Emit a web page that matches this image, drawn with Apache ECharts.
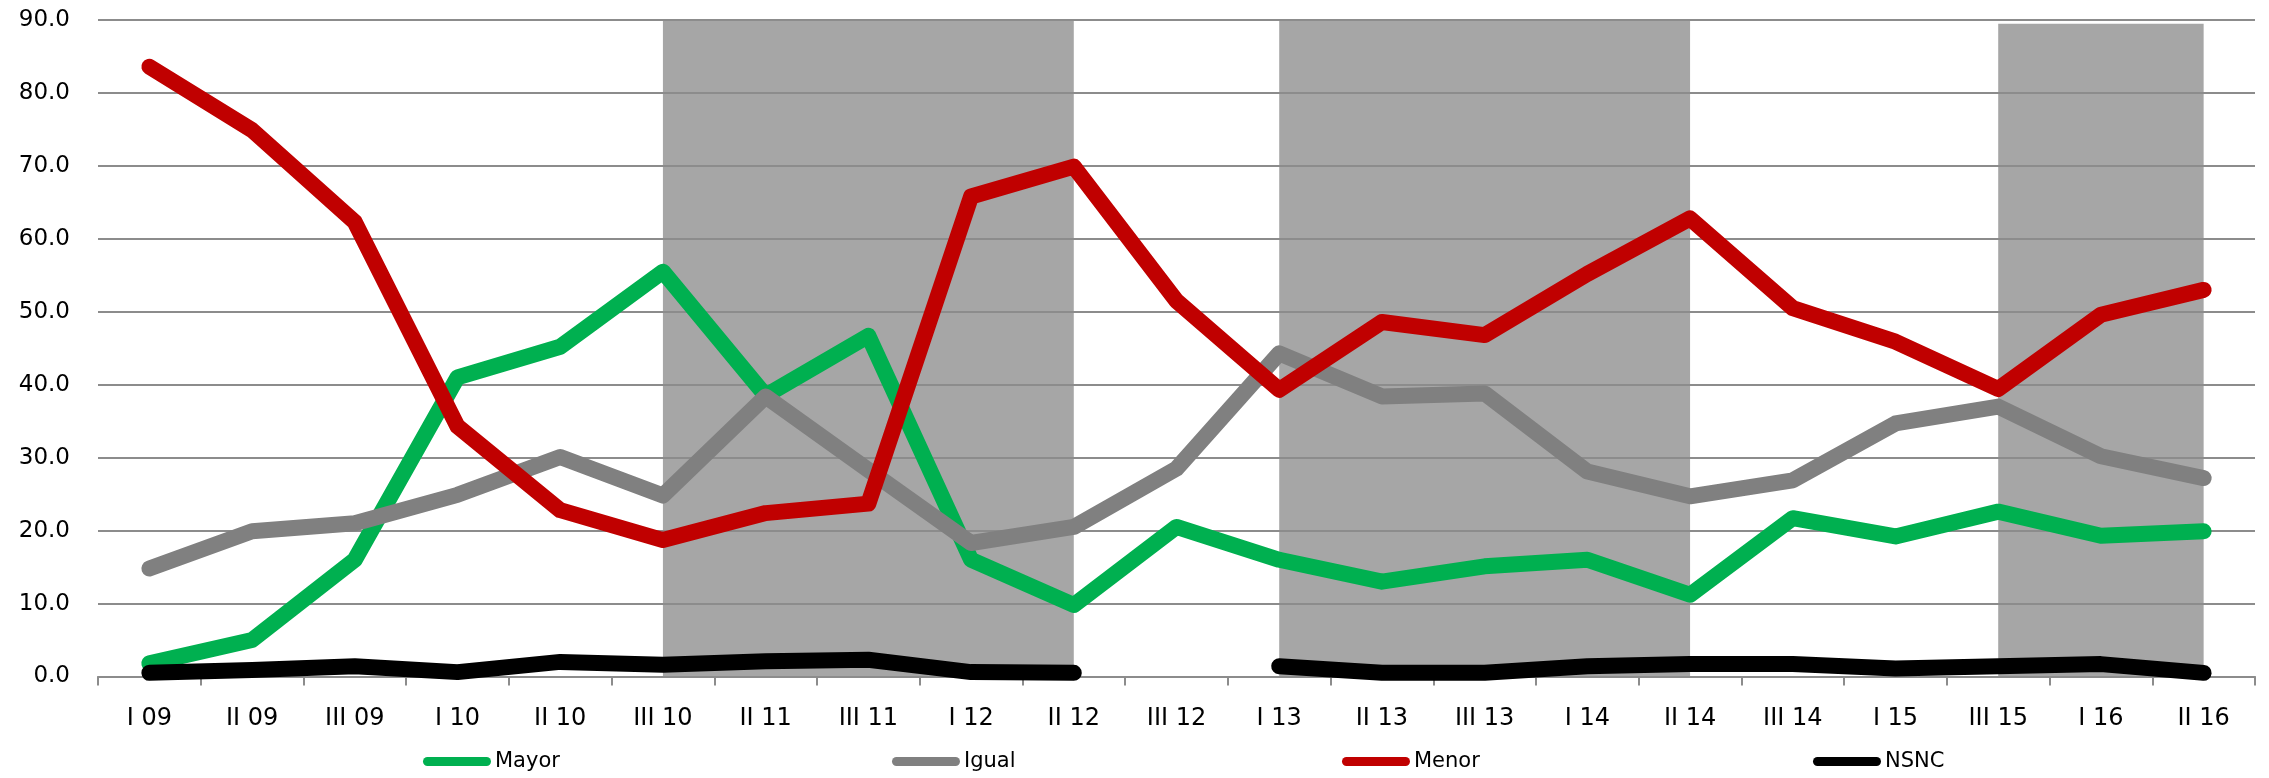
<!DOCTYPE html>
<html>
<head>
<meta charset="utf-8">
<title>Mayor / Igual / Menor / NSNC</title>
<script src="https://cdn.jsdelivr.net/npm/echarts@6/dist/echarts.min.js"></script>
<style>
  html, body { margin: 0; padding: 0; background: #fff; }
  #chart { width: 2269px; height: 778px; }
</style>
</head>
<body>
<div id="chart"></div>
<script>
// trimestres (el eje original no trae "I 11" ni "II 15")
const categories = ['I 09', 'II 09', 'III 09', 'I 10', 'II 10', 'III 10', 'II 11', 'III 11', 'I 12', 'II 12',
  'III 12', 'I 13', 'II 13', 'III 13', 'I 14', 'II 14', 'III 14', 'I 15', 'III 15', 'I 16', 'II 16'];

// valores
const mayor = [1.8, 5.0, 16.0, 41.0, 45.2, 55.5, 38.5, 46.7, 16.0, 9.8, 20.5, 16.0, 13.0, 15.1, 16.0, 11.2, 21.7, 19.2, 22.6, 19.3, 19.9];
const igual = [14.8, 19.9, 21.0, 24.9, 30.1, 24.8, 38.4, 28.3, 18.3, 20.5, 28.5, 44.3, 38.4, 38.8, 28.1, 24.7, 26.9, 34.7, 37.0, 30.2, 27.2];
const menor = [83.6, 74.9, 62.3, 34.3, 22.8, 18.7, 22.4, 23.7, 65.8, 69.9, 51.5, 39.3, 48.6, 46.8, 55.2, 62.8, 50.5, 45.9, 39.4, 49.6, 53.0];
const nsnc = [0.5, 0.9, 1.4, 0.6, 2.0, 1.6, 2.1, 2.3, 0.6, 0.5, null, 1.4, 0.5, 0.5, 1.4, 1.7, 1.7, 1.1, 1.4, 1.7, 0.5];

// franjas grises
const shadeStart = ['III 10', 'I 13', 'III 15'];
const shadeEnd = ['II 12', 'II 14', 'II 16'];
const shadeTop = [90, 90, 89.5];

const yTicks = [0, 90, 10]; // min, max, intervalo

const names = ['Mayor', 'Igual', 'Menor', 'NSNC'];
const colors = ['#00b050', '#808080', '#c00000', '#000000'];
const legendLeft = [423, 892, 1342, 1813];

const font = 'DejaVu Sans';
const gridColor = '#8c8c8c';

const chart = echarts.init(document.getElementById('chart'));

const shadeAreas = shadeStart.map((s, i) => [
  { xAxis: s, yAxis: 0 },
  { xAxis: shadeEnd[i], yAxis: shadeTop[i] }
]);

const capsule = 'path://M4.5,0H63.5A4.5,4.5,0,0,1,63.5,9H4.5A4.5,4.5,0,0,1,4.5,0Z';

function lineSeries(name, data, color, extra) {
  return Object.assign({
    name: name,
    type: 'line',
    data: data,
    symbol: 'none',
    color: color,
    lineStyle: { width: 16, color: color, cap: 'round', join: 'round' },
    animation: false
  }, extra || {});
}

const option = {
  animation: false,
  grid: { left: 98, right: 14, top: 20, bottom: 101.5 },
  // una leyenda por serie para fijar cada posicion
  legend: names.map((n, i) => ({
    data: [n],
    left: legendLeft[i],
    top: 751,
    padding: 0,
    icon: capsule,
    itemWidth: 68,
    itemHeight: 9,
    itemGap: 0,
    itemStyle: { borderWidth: 0 },
    textStyle: { fontFamily: font, fontSize: 21, color: '#000', padding: [0, 0, 0, -1] },
    selectedMode: false
  })),
  xAxis: {
    type: 'category',
    data: categories,
    boundaryGap: true,
    axisLine: { lineStyle: { color: gridColor, width: 2 } },
    axisTick: { show: true, length: 9, lineStyle: { color: gridColor, width: 2 } },
    axisLabel: { interval: 0, margin: 30, fontFamily: font, fontSize: 24, color: '#000' },
    splitLine: { show: false }
  },
  yAxis: {
    type: 'value',
    min: yTicks[0],
    max: yTicks[1],
    interval: yTicks[2],
    axisLine: { show: false },
    axisTick: { show: false },
    axisLabel: {
      margin: 28,
      fontFamily: font,
      fontSize: 23,
      color: '#000',
      formatter: v => v.toFixed(1)
    },
    splitLine: { lineStyle: { color: gridColor, width: 2 } }
  },
  series: [
    lineSeries(names[0], mayor, colors[0], {
      markArea: {
        z: -1,
        silent: true,
        itemStyle: { color: '#a6a6a6' },
        data: shadeAreas
      }
    }),
    lineSeries(names[1], igual, colors[1]),
    lineSeries(names[2], menor, colors[2]),
    lineSeries(names[3], nsnc, colors[3])
  ]
};

chart.setOption(option);
</script>
</body>
</html>
